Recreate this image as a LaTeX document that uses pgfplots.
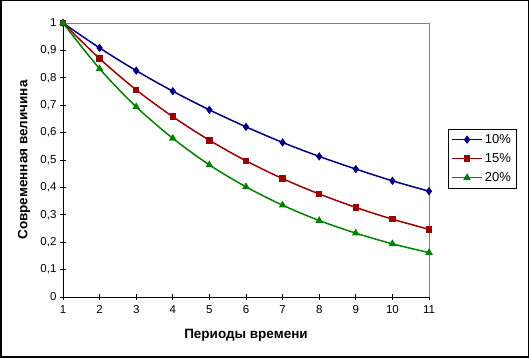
\documentclass[border=0pt]{standalone}
\usepackage{pgfplots}
\pgfplotsset{compat=1.18}
\usepackage{fontspec}
\setmainfont{Liberation Sans}
\definecolor{cblue}{RGB}{0,0,128}
\definecolor{cred}{RGB}{153,0,0}
\definecolor{cgreen}{RGB}{0,128,0}
\begin{document}
\begin{tikzpicture}
\useasboundingbox (0pt,0pt) rectangle (529pt,358pt);
\draw[line width=1.5pt] (0.75pt,0.75pt) rectangle (528.25pt,357.25pt);
\begin{axis}[
  at={(63pt,61pt)}, anchor=origin,
  scale only axis, width=366pt, height=274pt,
  xmin=1, xmax=11, ymin=0, ymax=1,
  xtick={1,...,11},
  ytick={0,0.1,...,1},
  axis lines*=left,
  axis line style={-, black, line width=0.8pt},
  tick align=center,
  major tick length=6pt,
  tick style={black, line width=0.8pt},
  /pgf/number format/assume math mode=true,
  /pgf/number format/use comma,
  yticklabel style={/pgf/number format/fixed, /pgf/number format/precision=1},
  ticklabel style={font=\fontsize{11.5}{13}\selectfont},
  xticklabel style={yshift=-2pt},
  legend style={at={(axis description cs:1.052,0.613)}, anchor=north west,
    draw=black, line width=0.6pt, font=\fontsize{13}{15}\selectfont,
    row sep=4.5pt, inner sep=3pt},
  legend cell align=left,
  legend image code/.code={\draw[mark repeat=2,mark phase=2] plot coordinates {(0pt,0pt) (15pt,0pt) (30pt,0pt)};},
  clip=false,
]
\draw[gray, line width=0.8pt] (rel axis cs:0,1) -- (rel axis cs:1,1) -- (rel axis cs:1,0);
\addplot[cblue, line width=1.5pt, smooth, tension=0.5, mark=diamond*, mark size=3pt, mark options={solid}] coordinates {
(1,1) (2,0.909) (3,0.826) (4,0.751) (5,0.683) (6,0.621) (7,0.564) (8,0.513) (9,0.467) (10,0.424) (11,0.386)};
\addlegendentry{10\%}
\addplot[cred, line width=1.5pt, smooth, tension=0.5, mark=square*, mark size=2.5pt] coordinates {
(1,1) (2,0.870) (3,0.756) (4,0.658) (5,0.572) (6,0.497) (7,0.432) (8,0.376) (9,0.327) (10,0.284) (11,0.247)};
\addlegendentry{15\%}
\addplot[cgreen, line width=1.5pt, smooth, tension=0.5, mark=triangle*, mark size=3pt] coordinates {
(1,1) (2,0.833) (3,0.694) (4,0.579) (5,0.482) (6,0.402) (7,0.335) (8,0.279) (9,0.233) (10,0.194) (11,0.162)};
\addlegendentry{20\%}
\end{axis}
\node[font=\fontsize{13.5}{15}\selectfont\bfseries] at (246pt,23pt) {Периоды времени};
\node[font=\fontsize{13.5}{15}\selectfont\bfseries, rotate=90] at (24pt,198pt) {Современная величина};
\end{tikzpicture}
\end{document}
